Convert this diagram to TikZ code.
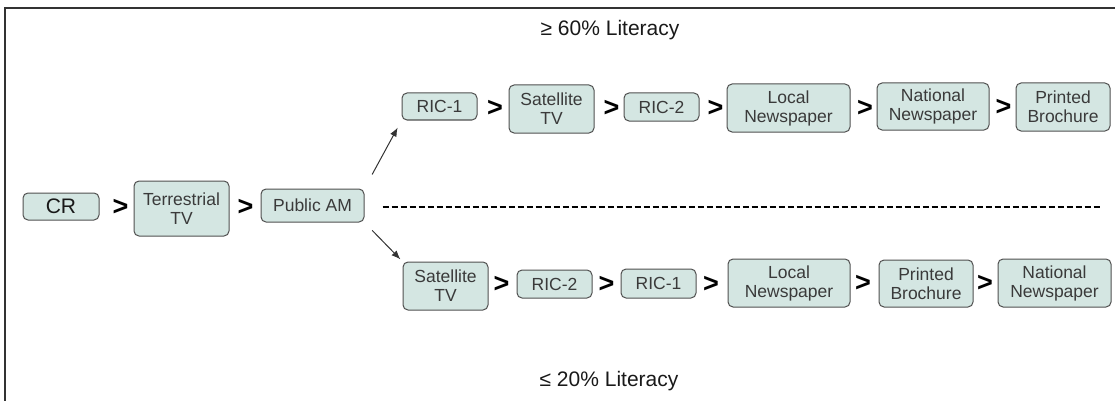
\documentclass[tikz,border=0pt]{standalone}
\usepackage{fontspec}
\setmainfont{Liberation Sans}
\usetikzlibrary{arrows.meta}
\definecolor{boxfill}{HTML}{D4E6E2}
\definecolor{boxline}{HTML}{505050}
\definecolor{txt}{HTML}{3A3A3A}
\tikzset{
  mbox/.style={draw=boxline, fill=boxfill, line width=1pt, rounded corners=5pt,
    inner sep=0pt, align=center, text=txt, font=\fontsize{17.5}{19}\selectfont},
  gt/.style={inner sep=0pt, font=\bfseries\fontsize{27}{27}\selectfont, text=black},
  head/.style={inner sep=0pt, font=\fontsize{21}{24}\selectfont, text=black!90},
  branch/.style={-{Latex[length=9pt,width=7pt]}, line width=1pt, draw=black!80},
  dashline/.style={dash pattern=on 6pt off 3pt, line width=1.3pt, draw=black},
  frame/.style={line width=2pt, draw=black!80}
}
\begin{document}
\begin{tikzpicture}[x=1pt,y=-1pt]
\useasboundingbox (0,0) rectangle (1115,401);
% frame
\coordinate (fbl) at (4.5,401);
\coordinate (ftl) at (4.5,8);
\coordinate (ftr) at (1115,8);
\draw[frame] (fbl) -- (ftl) -- (ftr);
% headings
\node[head] (h1) at (610,30) {≥ 60\% Literacy};
\node[head] (h2) at (609,381) {≤ 20\% Literacy};
% left part
\node[mbox, minimum width=76pt, minimum height=27pt, text=black!90, font=\fontsize{21}{21}\selectfont] (cr) at (61,206.5) {CR};
\node[gt] (g0) at (120.5,207) {>};
\node[mbox, minimum width=95pt, minimum height=55pt] (tt) at (181.5,208.5) {Terrestrial\\TV};
\node[gt] (g00) at (245.5,207) {>};
\node[mbox, minimum width=103pt, minimum height=33pt] (pam) at (312.5,205.5) {Public AM};
% upper row
\node[mbox, minimum width=75pt, minimum height=27pt] (r1a) at (439.5,106.5) {RIC-1};
\node[gt] (g1) at (495,108) {>};
\node[mbox, minimum width=85pt, minimum height=48pt] (s1) at (551.5,109) {Satellite\\TV};
\node[gt] (g2) at (611.5,108) {>};
\node[mbox, minimum width=75pt, minimum height=28pt] (r2a) at (661.5,107) {RIC-2};
\node[gt] (g3) at (715.5,108) {>};
\node[mbox, minimum width=123pt, minimum height=48pt] (ln1) at (788.5,108) {Local\\Newspaper};
\node[gt] (g4) at (865,108) {>};
\node[mbox, minimum width=112pt, minimum height=47pt] (nn1) at (933,106.5) {National\\Newspaper};
\node[gt] (g5) at (1003.5,107) {>};
\node[mbox, minimum width=94pt, minimum height=48pt] (pb1) at (1063,107) {Printed\\Brochure};
% lower row
\node[mbox, minimum width=85pt, minimum height=48pt] (s2) at (445.5,286) {Satellite\\TV};
\node[gt] (g6) at (501.5,284) {>};
\node[mbox, minimum width=75pt, minimum height=28pt] (r2b) at (554.5,284) {RIC-2};
\node[gt] (g7) at (606.5,284) {>};
\node[mbox, minimum width=75pt, minimum height=29pt] (r1b) at (658.5,283.5) {RIC-1};
\node[gt] (g8) at (711,284) {>};
\node[mbox, minimum width=122pt, minimum height=48pt] (ln2) at (789,283) {Local\\Newspaper};
\node[gt] (g9) at (863,283) {>};
\node[mbox, minimum width=94pt, minimum height=47pt] (pb2) at (926,283.5) {Printed\\Brochure};
\node[gt] (g10) at (985,283) {>};
\node[mbox, minimum width=113pt, minimum height=48pt] (nn2) at (1054.5,283) {National\\Newspaper};
% branches
\draw[branch, shorten <=16pt, shorten >=8pt] (pam.north east) -- (r1a.south west);
\draw[branch, shorten <=11pt, shorten >=3pt] (pam.south east) -- (s2.north west);
% dashed divider
\coordinate (dend) at (1100,207);
\draw[dashline, shorten <=18pt] (pam.east |- dend) -- (dend);
\end{tikzpicture}
\end{document}
